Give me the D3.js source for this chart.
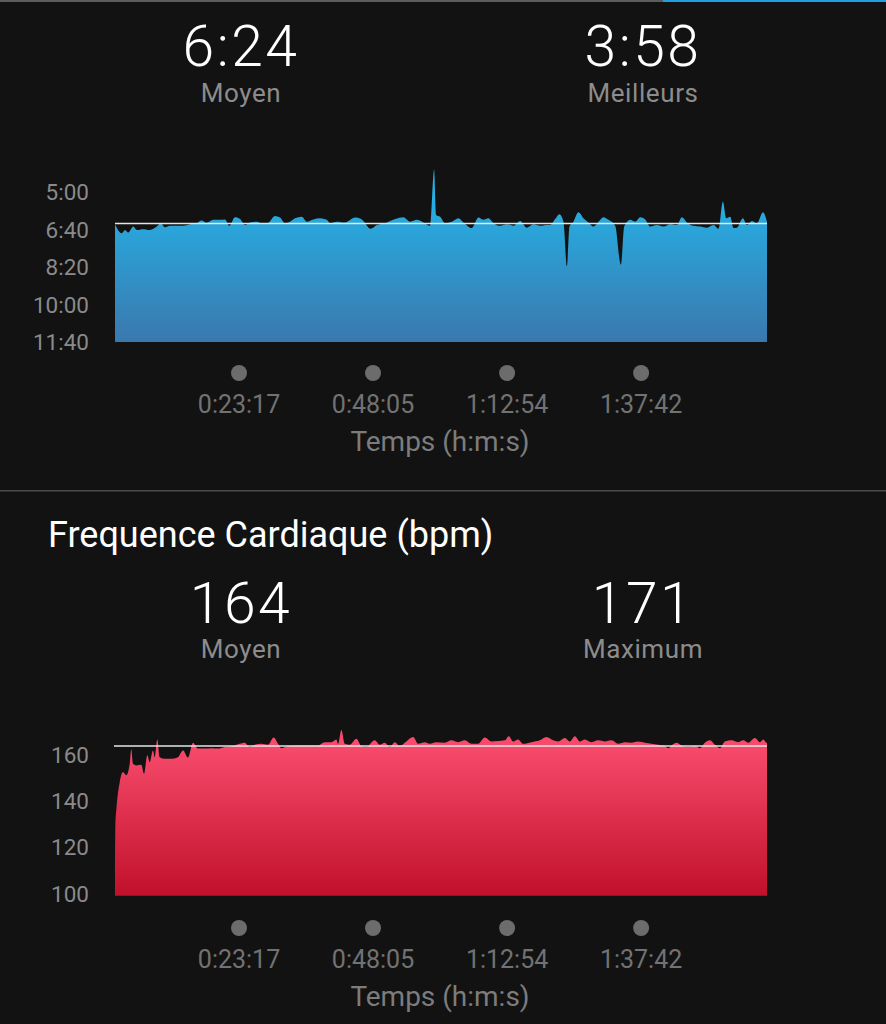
<!DOCTYPE html>
<html>
<head>
<meta charset="utf-8">
<script src="https://cdn.jsdelivr.net/npm/d3@7"></script>
<style>
  html, body { margin: 0; padding: 0; background: #121212; }
  svg { display: block; }
  text { font-family: Roboto, "Liberation Sans", sans-serif; }
</style>
</head>
<body>
<svg id="chart" width="886" height="1024"></svg>
<script>
// ---------- DATA ----------
// elapsed time (minutes) and pace (seconds per km)
const paceMin = [0.33,1.57,2.18,2.79,3.71,4.34,5.57,6.81,8.05,8.79,9.58,10.51,11.75,12.97,14.21,15.45,16.38,17.30,18.53,19.77,20.69,21.49,22.54,23.47,24.40,25.32,26.56,27.78,28.71,29.95,30.88,31.80,32.73,33.65,34.89,35.82,37.04,38.28,39.52,
  40.13,41.37,42.91,44.76,46.00,47.67,48.78,50.32,52.17,53.70,54.95,56.19,57.41,58.65,59.39,59.76,60.50,61.42,62.67,63.89,64.81,66.37,67.59,68.52,69.44,70.37,71.61,72.85,74.07,75.31,76.55,77.77,79.01,80.25,
  80.88,81.79,82.59,83.33,83.96,84.44,85.18,86.11,87.03,87.96,88.88,89.81,90.73,91.66,92.90,93.96,94.57,95.68,96.61,97.53,98.46,99.39,100.62,101.84,103.08,104.32,105.25,106.18,107.40,108.64,109.88,111.10,112.03,112.84,113.45,114.19,114.80,115.43,116.54,117.28,118.21,119.14,120.25,121.0];
const paceSec = [386,410,401,408,392,401,399,401,392,383,394,390,390,390,386,383,376,382,374,374,373,390,367,372,388,381,379,385,382,364,368,383,379,370,366,379,373,370,374,
  383,379,381,368,373,398,388,383,372,367,379,374,381,390,240,361,366,383,379,370,381,396,368,374,370,383,390,386,390,377,395,386,390,388,
  388,372,359,379,498,392,379,354,370,381,392,379,367,374,390,494,392,374,379,367,373,392,388,392,386,388,367,381,390,392,395,388,398,326,370,366,396,395,370,388,377,383,354,379];

// elapsed time (minutes) and heart rate (bpm)
const hrMin = [0.33,0.40,0.60,1.20,1.81,2.42,3.05,3.34,3.66,4.27,5.20,5.70,6.31,6.75,7.36,7.68,8.16,8.60,9.53,10.75,11.99,12.92,13.84,14.77,15.69,16.93,18.16,19.40,20.64,22.49,23.41,24.34,25.27,26.19,27.41,28.65,29.71,30.51,31.12,32.36,34.21,36.06,37.91,39.15,40.37,41.30,41.61,42.23,42.85,43.78,45.00,45.93,46.85,48.41,49.33,50.26,51.19,52.11,53.04,54.26,55.50,56.43,57.67,58.59,59.81,
  61.37,62.59,63.83,65.07,66.30,67.54,68.78,70.00,71.24,72.48,73.22,74.02,74.94,75.87,77.40,78.96,80.18,81.42,82.35,83.59,84.51,85.44,86.37,87.29,88.51,89.75,90.99,92.22,93.46,94.70,95.92,97.16,98.40,99.62,100.86,102.10,102.71,103.32,104.25,105.18,106.42,107.66,108.58,109.51,110.44,111.36,112.29,113.21,114.43,115.67,116.60,117.53,118.77,119.69,120.30,120.91,121.0];
const hrBpm = [108,130,137,148.3,152.7,151.3,156.3,162.6,156.3,155.6,155.9,152,160,157,162.1,159.2,166.9,159.2,158.5,158.5,159.2,162.1,159,165.5,162.9,162.9,163.1,162.9,163.6,164.3,165,165.5,163.6,164.6,165,164.6,167.7,165,163.1,164,164.3,164.3,164.3,165.7,165.7,166.9,165,171,165,164.6,167.2,164,163.6,166.5,164.6,165.5,163.6,165.7,164,166,167.9,165,165.7,165,165.7,
  165.5,166.5,165.7,166.5,165,165,167.7,166,166.2,166.5,168.3,166,166.9,165,165.7,166.5,167.9,166.5,166,167.5,166,168.3,166,166.9,165.7,166.5,166,166.5,165,165.7,165.5,166,165.5,165,164.6,164,163.1,164.3,165.5,164.3,163.6,164,163.1,165.5,166.5,164.6,163.1,166,166.5,165.7,166.5,165.5,167.5,165.7,166.9,165.5,165.5];

const paceSummaryValues = ["6:24", "3:58"];
const paceSummaryLabels = ["Moyen", "Meilleurs"];
const paceAvgSec = 384;
const paceTickValues = [300, 400, 500, 600, 700];
const paceTickLabels = ["5:00", "6:40", "8:20", "10:00", "11:40"];

const hrTitle = "Frequence Cardiaque (bpm)";
const hrSummaryValues = ["164", "171"];
const hrSummaryLabels = ["Moyen", "Maximum"];
const hrAvg = 164;
const hrTickValues = [100, 120, 140, 160];
const hrTickLabels = ["100", "120", "140", "160"];

const timeTickSeconds = [1397, 2885, 4374, 5862];
const timeTickLabels = ["0:23:17", "0:48:05", "1:12:54", "1:37:42"];
const timeAxisTitle = "Temps (h:m:s)";

// ---------- DRAW ----------
const svg = d3.select("#chart");
const W = 886;

const x = d3.scaleLinear().domain([0.33, 121.0]).range([115, 767]);
const yPace = d3.scaleLinear().domain([300, 700]).range([192, 342]);
const yHr = d3.scaleLinear().domain([100, 160]).range([893.5, 755.3]);

const defs = svg.append("defs");
const gBlue = defs.append("linearGradient").attr("id", "gBlue")
  .attr("gradientUnits", "userSpaceOnUse").attr("x1", 0).attr("x2", 0).attr("y1", 200).attr("y2", 342);
gBlue.append("stop").attr("offset", "0%").attr("stop-color", "#26AFE4");
gBlue.append("stop").attr("offset", "100%").attr("stop-color", "#3A78AD");
const gRed = defs.append("linearGradient").attr("id", "gRed")
  .attr("gradientUnits", "userSpaceOnUse").attr("x1", 0).attr("x2", 0).attr("y1", 745).attr("y2", 896);
gRed.append("stop").attr("offset", "0%").attr("stop-color", "#F84B6C");
gRed.append("stop").attr("offset", "100%").attr("stop-color", "#C0102B");

// top status bar
svg.append("rect").attr("x", 0).attr("y", 0).attr("width", 663).attr("height", 2).attr("fill", "#5c5c5c");
svg.append("rect").attr("x", 663).attr("y", 0).attr("width", W - 663).attr("height", 2).attr("fill", "#1F9FE0");
// section separator
svg.append("rect").attr("x", 0).attr("y", 490).attr("width", W).attr("height", 1.5).attr("fill", "#4a4a4a");

function summary(values, labels, yVal, yLab) {
  const cx = [241, 643];
  values.forEach((v, i) => {
    svg.append("text").attr("x", cx[i]).attr("y", yVal).attr("text-anchor", "middle")
      .attr("fill", "#ffffff").attr("font-size", 57).attr("font-weight", 300)
      .attr("letter-spacing", 2.5).text(v);
    svg.append("text").attr("x", cx[i]).attr("y", yLab).attr("text-anchor", "middle")
      .attr("fill", "#8c8c8c").attr("font-size", 26).attr("letter-spacing", 0.6).text(labels[i]);
  });
}

function timeAxis(dotY) {
  const g = svg.append("g");
  const tx = timeTickSeconds.map(s => x(s / 60));
  g.selectAll("circle").data(tx).join("circle")
    .attr("cx", d => d).attr("cy", dotY).attr("r", 8).attr("fill", "#6c6c6c");
  g.selectAll("text.tl").data(timeTickLabels).join("text").attr("class", "tl")
    .attr("x", (d, i) => tx[i]).attr("y", dotY + 31).attr("dominant-baseline", "central")
    .attr("text-anchor", "middle").attr("fill", "#727272").attr("font-size", 25).text(d => d);
  g.append("text").attr("x", 440).attr("y", dotY + 68).attr("dominant-baseline", "central")
    .attr("text-anchor", "middle").attr("fill", "#7c7c7c").attr("font-size", 28).text(timeAxisTitle);
}

function yTicks(vals, labels, scale) {
  svg.append("g").selectAll("text").data(vals).join("text")
    .attr("x", 89).attr("y", d => scale(d)).attr("dominant-baseline", "central")
    .attr("text-anchor", "end").attr("fill", "#8a8a8a").attr("font-size", 22.5)
    .text((d, i) => labels[i]);
}

// ---- Pace chart ----
summary(paceSummaryValues, paceSummaryLabels, 66, 102);
yTicks(paceTickValues, paceTickLabels, yPace);
const paceData = paceMin.map((m, i) => ({ m, v: paceSec[i] }));
svg.append("path").datum(paceData)
  .attr("fill", "url(#gBlue)")
  .attr("d", d3.area().x(d => x(d.m)).y0(yPace(700)).y1(d => yPace(d.v)).curve(d3.curveMonotoneX));
svg.append("line").attr("x1", x(0.33)).attr("x2", x(121)).attr("y1", yPace(paceAvgSec)).attr("y2", yPace(paceAvgSec))
  .attr("stroke", "#e6e6e6").attr("stroke-width", 1.5);
timeAxis(373);

// ---- Heart rate chart ----
svg.append("text").attr("x", 48).attr("y", 535).attr("dominant-baseline", "central")
  .attr("fill", "#ffffff").attr("font-size", 36).text(hrTitle);
summary(hrSummaryValues, hrSummaryLabels, 623, 658);
yTicks(hrTickValues, hrTickLabels, yHr);
const hrData = hrMin.map((m, i) => ({ m, v: hrBpm[i] }));
svg.append("path").datum(hrData)
  .attr("fill", "url(#gRed)")
  .attr("d", d3.area().x(d => x(d.m)).y0(yHr(99)).y1(d => yHr(d.v)).curve(d3.curveMonotoneX));
svg.append("line").attr("x1", x(0.33) - 1).attr("x2", x(121)).attr("y1", yHr(hrAvg)).attr("y2", yHr(hrAvg))
  .attr("stroke", "#e6e6e6").attr("stroke-width", 1.5);
timeAxis(928);
</script>
</body>
</html>
